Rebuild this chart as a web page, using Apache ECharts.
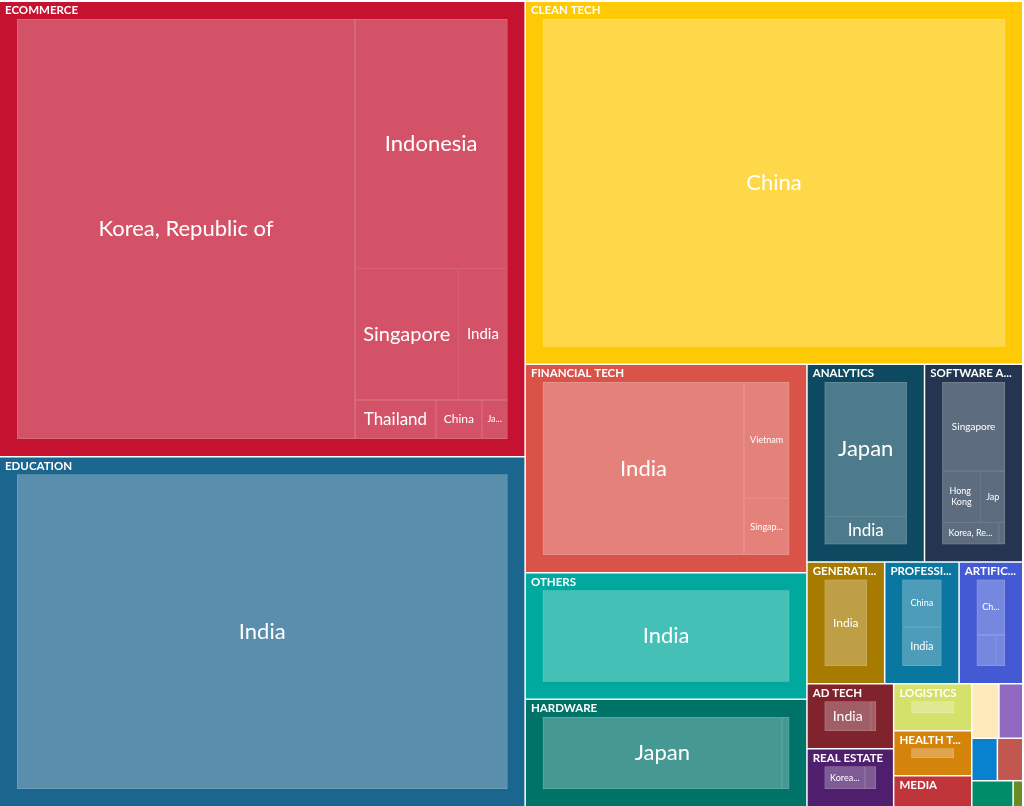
<!DOCTYPE html>
<html>
<head>
<meta charset="utf-8">
<script src="https://cdn.jsdelivr.net/npm/echarts@6/dist/echarts.min.js"></script>
<style>
html,body{margin:0;padding:0;background:#ffffff;}
#chart{width:1024px;height:806px;}
</style>
</head>
<body>
<div id="chart"></div>
<script>
// ---- data (relative amounts) ----
const sectorNames = [
  'ECOMMERCE', 'EDUCATION', 'CLEAN TECH', 'FINANCIAL TECH', 'OTHERS', 'HARDWARE',
  'ANALYTICS', 'SOFTWARE AS A SERVICE', 'GENERATIVE AI', 'PROFESSIONAL SERVICES',
  'ARTIFICIAL INTELLIGENCE', 'AD TECH', 'REAL ESTATE', 'LOGISTICS', 'HEALTH TECH',
  'MEDIA', 'TRAVEL', 'GAMING', 'SECURITY', 'AGRITECH', 'FOOD TECH', 'BIOTECH'
];
const sectorTotals = [
  237.9, 182.9, 179.4, 58.4, 35.4, 30.1,
  23.1, 19.3, 9.4, 9.0,
  7.7, 5.6, 5.0, 3.65, 3.5,
  2.4, 1.47, 1.29, 1.08, 1.07, 1.07, 0.25
];
const countryNames = [
  ['Korea, Republic of', 'Indonesia', 'Singapore', 'India', 'Thailand', 'China', 'Japan'],
  ['India'],
  ['China'],
  ['India', 'Vietnam', 'Singapore'],
  ['India'],
  ['Japan', 'China'],
  ['Japan', 'India'],
  ['Singapore', 'Hong Kong', 'Japan', 'Korea, Republic of', 'Malaysia'],
  ['India'],
  ['China', 'India'],
  ['China', 'Singapore', 'India'],
  ['India', 'Singapore'],
  ['Korea, Republic of', 'Singapore'],
  ['India'],
  ['Korea, Republic of'],
  ['Indonesia'],
  [], [], [], [], [], []
];
const countryValues = [
  [163.9, 43.9, 15.7, 7.43, 3.64, 2.07, 1.15],
  [182.9],
  [179.4],
  [47.7, 7.18, 3.5],
  [35.4],
  [29.19, 0.91],
  [19.15, 3.96],
  [10.6, 3.69, 2.37, 2.32, 0.26],
  [9.4],
  [4.96, 4.04],
  [4.94, 1.84, 0.92],
  [5.03, 0.57],
  [3.93, 1.07],
  [3.65],
  [3.5],
  [2.4],
  [], [], [], [], [], []
];

// ---- styles ----
const sectorColors = [
  '#C41230', '#1B668E', '#FFCA05', '#DA5349', '#00A99D', '#007369',
  '#0D4A62', '#233550', '#A67B00', '#0A77A1',
  '#445AD4', '#80232D', '#4F1F6E', '#D4E16A', '#D4830B',
  '#C0353A', '#FDEABA', '#9168C0', '#0882CE', '#008C68', '#C1574E', '#6A8A23'
];
const FONT = 'Lato, "Noto Sans", sans-serif';
const UPPER_SIZE = 11.5;

function lighten(hex, t) {
  const n = parseInt(hex.slice(1), 16);
  const r = (n >> 16) & 255, g = (n >> 8) & 255, b = n & 255;
  const f = c => Math.round(c + (255 - c) * t);
  return 'rgb(' + f(r) + ',' + f(g) + ',' + f(b) + ')';
}

const measureCtx = document.createElement('canvas').getContext('2d');
function textW(t, size, weight) {
  measureCtx.font = (weight || 'normal') + ' ' + size + 'px ' + FONT;
  return measureCtx.measureText(t).width;
}

// choose a label size that fits the cell the library laid out
function fitLeaf(name, w, h) {
  if (w < 18 || h < 18) return { show: false };
  const aw = w - 14, ah = h - 6;
  const words = name.split(' ');
  for (let s = 22; s >= 9; s--) {
    const lh = Math.round(s * 1.2);
    if (lh > ah) continue;
    if (textW(name, s) <= aw) return { fontSize: s, lineHeight: lh, overflow: 'truncate' };
    if (words.length > 1 && 2 * lh <= ah) {
      let best = Infinity;
      for (let k = 1; k < words.length; k++) {
        best = Math.min(best, Math.max(textW(words.slice(0, k).join(' '), s), textW(words.slice(k).join(' '), s)));
      }
      if (best <= aw) return { fontSize: s, lineHeight: lh, overflow: 'break' };
    }
  }
  return { fontSize: 9, lineHeight: 11, overflow: (ah >= 22 && words.length > 1) ? 'break' : 'truncate' };
}

function fitUpper(name, w) {
  const aw = w - 10;
  if (aw < 40) return '';
  if (textW(name, UPPER_SIZE, 'bold') <= aw) return name;
  for (let k = name.length - 1; k >= 1; k--) {
    const t = name.slice(0, k).replace(/\s+$/, '') + '...';
    if (textW(t, UPPER_SIZE, 'bold') <= aw) return t;
  }
  return '';
}

function buildData(info) {
  return sectorNames.map((name, i) => {
    const base = sectorColors[i];
    const node = { name: name, value: sectorTotals[i], itemStyle: { color: base, borderColor: base } };
    const kids = countryNames[i];
    if (kids.length) {
      node.children = kids.map((c, j) => {
        const item = {
          name: c,
          value: countryValues[i][j],
          itemStyle: { color: lighten(base, 0.27), borderColor: lighten(base, 0.45) }
        };
        const li = info && info.leaf[name + '|' + c];
        if (li) item.label = li;
        return item;
      });
      if (info) {
        const u = info.upper[name];
        node.upperLabel = u ? { show: true, formatter: u } : { show: false };
      }
    }
    return node;
  });
}

function makeOption(info) {
  return {
    animation: false,
    backgroundColor: '#ffffff',
    series: [{
      type: 'treemap',
      left: 0, top: 2, width: 1022, height: 804,
      roam: false,
      nodeClick: false,
      breadcrumb: { show: false },
      sort: 'desc',
      visibleMin: 0,
      emphasis: { disabled: true },
      levels: [
        { itemStyle: { borderWidth: 0, gapWidth: 1.5, borderColor: '#ffffff' } },
        {
          itemStyle: { borderWidth: 17, gapWidth: 0 },
          label: { show: false },
          upperLabel: {
            show: true, height: 17, color: '#ffffff', fontFamily: FONT,
            fontWeight: 'bold', fontSize: UPPER_SIZE, position: [-12, '50%'],
            overflow: 'none'
          }
        },
        {
          itemStyle: { borderWidth: 0.5, gapWidth: 0 },
          label: {
            show: true, position: 'inside', color: '#ffffff', fontFamily: FONT,
            fontSize: 22, overflow: 'truncate', ellipsis: '...', padding: [0, 4]
          }
        }
      ],
      data: buildData(info)
    }]
  };
}

const chart = echarts.init(document.getElementById('chart'), null, { renderer: 'canvas' });
chart.setOption(makeOption(null));

// second pass: size the labels to the cells the library laid out
const info = { leaf: {}, upper: {} };
try {
  const tree = chart.getModel().getSeriesByIndex(0).getData().tree;
  tree.root.children.forEach(sn => {
    const sl = sn.getLayout();
    if (!sl) return;
    info.upper[sn.name] = fitUpper(sn.name, sl.width);
    (sn.children || []).forEach(cn => {
      const cl = cn.getLayout();
      if (!cl) return;
      info.leaf[sn.name + '|' + cn.name] = fitLeaf(cn.name, cl.width - 1, cl.height - 1);
    });
  });
} catch (e) { console.error(e); }
chart.setOption(makeOption(info), true);
</script>
</body>
</html>
